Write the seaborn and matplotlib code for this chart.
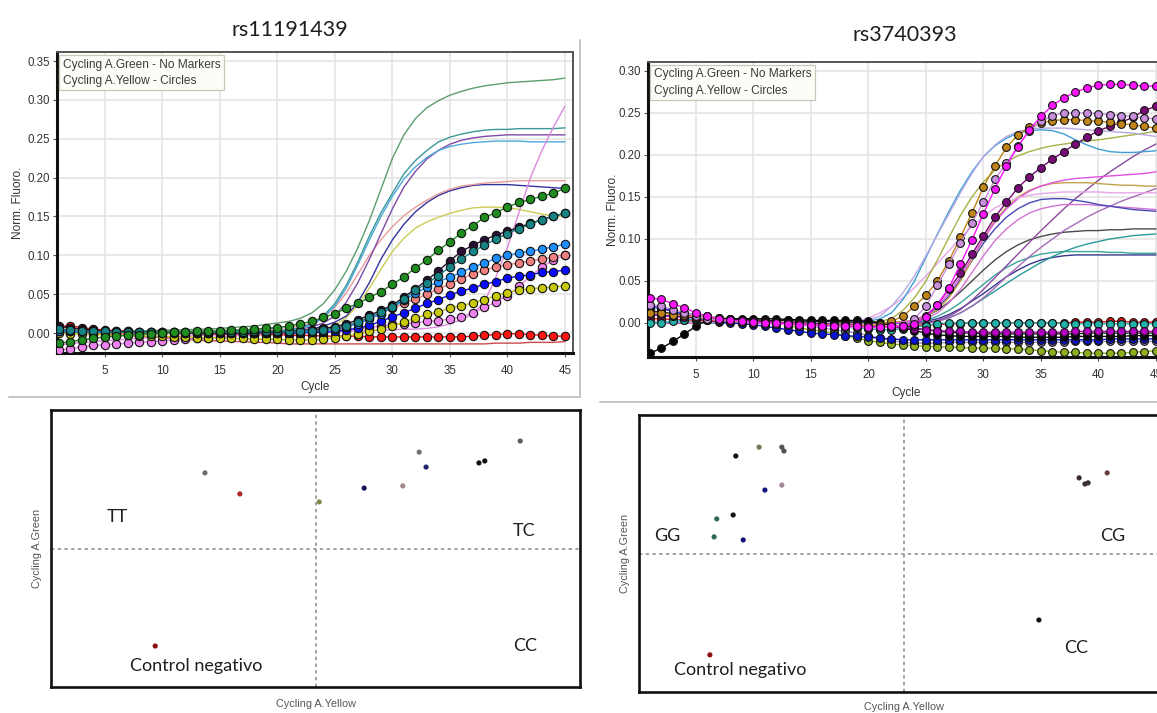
import matplotlib
matplotlib.use("Agg")
import matplotlib.pyplot as plt
from matplotlib.lines import Line2D
from matplotlib.ticker import FormatStrFormatter
import numpy as np
import pandas as pd
import seaborn as sns

# ---------------------------------------------------------------------------
# Amplification data: Norm. Fluoro. in thousandths, one value per cycle 1..45
# ---------------------------------------------------------------------------
cycles = list(range(1, 46))

# rs11191439 - Cycling A.Green (lines, no markers)
lg_seagreen = [3,3,3,3,3,3,3,3,3,4, 4,4,5,5,6,7,8,9,11,13, 15,19,26,38,56,
               80,110,145,185,225, 255,276,290,299,306, 311,315,318,320,322, 323,324,325,326,328]
lg_teal = [2,2,2,2,2,2,2,2,2,2, 2,2,2,2,2,2,3,3,3,3, 4,7,12,22,38,
           62,92,125,155,180, 205,222,235,246,252, 256,259,261,262,262, 263,263,263,263,264]
lg_purple = [2,2,2,2,2,1,1,1,1,1, 1,1,1,1,1,1,1,2,2,2, 3,5,8,13,22,
             40,65,95,128,160, 188,208,224,235,243, 248,251,253,254,255, 255,255,255,255,255]
lg_lightblue = [1,1,1,1,1,1,1,1,1,1, 1,1,1,1,1,1,2,2,2,3, 4,6,10,20,35,
                58,88,120,150,176, 198,214,226,235,240, 243,245,246,247,247, 247,246,246,246,246]
lg_pink = [4,4,4,4,3,3,3,3,3,3, 3,3,3,3,3,3,4,4,5,6, 7,9,13,20,33,
           52,76,100,120,137, 151,162,171,179,185, 189,191,193,194,195, 196,196,196,196,196]
lg_navy = [1,1,1,1,1,1,1,1,0,0, 0,0,0,0,0,0,0,1,1,1, 2,3,5,9,14,
           22,40,65,95,120, 140,156,168,177,183, 187,190,191,191,191, 190,189,188,187,186]
lg_khaki = [0,0,0,0,0,0,0,0,0,0, -1,-1,-1,-1,-1,-1,-1,-1,0,0, 1,2,3,5,10,
            20,36,58,82,105, 122,135,143,149,154, 158,161,162,162,161, 159,156,153,151,150]
lg_violet = [-15,-14,-12,-11,-10,-9,-8,-7,-6,-5, -4,-4,-3,-3,-2,-2,-2,-1,-1,-1, 0,0,1,1,2,
             2,3,3,4,4, 5,5,6,8,12, 17,25,40,72,110, 155,200,235,265,292]
lg_red = [3,2,1,0,-1,-2,-3,-4,-5,-6, -7,-8,-9,-10,-10,-11,-11,-12,-12,-13, -14,-14,-14,-14,-14,
          -14,-14,-14,-14,-14, -14,-14,-14,-14,-14, -14,-14,-14,-13,-13, -13,-12,-12,-12,-11]

# rs11191439 - Cycling A.Yellow (circles)
ly_green = [-13,-11,-9,-7,-5,-4,-3,-2,-1,0, 1,1,2,2,3,4,4,5,6,7, 9,12,15,20,25,
            32,38,46,53,63, 72,84,94,107,117, 129,138,149,155,162, 168,172,176,180,186]
ly_teal = [5,4,3,2,2,1,1,1,1,1, 1,1,1,1,1,1,1,2,2,2, 2,3,3,4,6,
           9,14,20,27,34, 44,55,64,74,85, 95,105,113,121,128, 134,140,146,150,155]
ly_dark = [8,7,5,4,3,2,2,1,1,1, 1,0,0,0,0,0,0,0,1,1, 2,3,4,6,8,
           12,17,23,29,36, 46,57,68,80,93, 105,113,120,126,131, 136,141,146,150,154]
ly_lightblue = [2,2,2,1,1,1,1,1,1,1, 1,1,1,1,1,1,1,1,1,1, 1,1,2,3,5,
                8,12,18,25,33, 42,51,59,66,72, 78,85,90,96,100, 103,105,108,111,114]
ly_salmon = [3,2,2,1,1,0,0,0,0,0, 0,0,0,0,0,0,0,0,0,0, 1,2,3,5,7,
             10,14,19,25,32, 38,44,50,57,63, 70,76,81,85,88, 90,93,95,98,101]
ly_blue = [2,2,2,1,1,1,1,0,0,0, 0,0,0,0,0,0,0,0,0,0, 0,0,1,1,2,
           4,6,10,15,21, 26,32,38,43,49, 54,58,63,66,71, 73,75,78,79,81]
ly_yellow = [0,-1,-1,-2,-2,-3,-3,-4,-4,-4, -5,-5,-6,-6,-6,-7,-7,-8,-8,-8, -9,-9,-9,-8,-6,
             -4,-1,2,5,9, 14,19,24,27,32, 35,39,43,48,52, 55,57,58,59,61]
ly_orchid = [-22,-20,-18,-16,-15,-14,-13,-12,-11,-10, -9,-8,-7,-6,-5,-4,-3,-2,-1,0, 1,2,3,4,5,
             5,6,7,9,11, 12,13,15,16,18, 21,26,33,40,48, 60,73,85,94,100]
ly_red = [9,9,7,5,4,3,2,1,1,0, 0,0,0,-1,-1,-1,-1,-2,-2,-2, -3,-3,-3,-4,-4,
          -4,-4,-5,-5,-5, -5,-5,-5,-5,-5, -5,-4,-3,-2,-1, -1,-2,-3,-4,-4]

# rs3740393 - Cycling A.Green (lines, no markers)
rg_lavender = [2,2,2,1,1,1,1,0,0,0, 0,0,0,0,0,0,1,1,2,4, 8,20,36,56,80,
               105,130,155,178,198, 212,222,228,231,232, 232,232,231,230,229, 228,227,226,224,222]
rg_pink = [1,1,1,1,1,0,0,0,0,0, 0,0,0,0,0,0,0,1,2,6, 12,20,30,42,56,
           71,86,101,115,127, 137,144,149,152,154, 155,156,156,156,156, 155,155,155,155,155]
rg_steelblue = [1,1,1,1,1,0,0,0,0,0, 0,0,0,0,0,0,0,1,1,2, 5,12,28,50,78,
                106,133,158,180,198, 211,220,226,229,230, 229,225,218,212,207, 204,203,203,204,205]
rg_olive = [1,1,1,1,0,0,0,0,0,0, 0,0,0,0,0,0,0,0,1,1, 2,5,15,30,50,
            75,102,128,150,168, 182,192,199,204,208, 211,213,215,217,218, 220,222,224,226,228]
rg_magenta = [0,0,0,0,0,0,0,0,0,0, 0,0,0,0,0,0,0,0,0,0, 0,0,1,3,10,
              20,35,55,78,100, 120,136,148,157,163, 167,170,172,173,174, 175,176,177,178,180]
rg_khaki = [0,0,0,0,0,0,0,0,0,0, 0,0,0,0,0,0,0,0,0,0, 0,1,2,3,8,
            16,30,50,75,100, 122,138,150,158,163, 166,167,167,167,166, 165,164,164,163,163]
rg_navy = [0,0,0,0,0,0,0,0,0,0, 0,0,0,0,0,0,0,0,0,0, 0,0,1,2,8,
           18,32,52,74,95, 112,126,136,143,147, 148,148,146,144,141, 139,137,135,134,133]
rg_orchid = [0,0,0,0,0,0,0,0,0,0, 0,0,0,0,0,0,0,0,0,0, 0,0,1,2,5,
             12,24,40,60,80, 98,112,123,131,136, 139,141,141,141,140, 139,138,137,136,135]
rg_purple = [0,0,0,0,0,0,0,0,0,0, 0,0,0,0,0,0,0,0,0,0, 0,0,0,0,0,
             3,8,16,27,40, 54,68,82,96,110, 123,136,148,159,170, 180,189,198,206,213]
rg_purple2 = [0,0,0,0,0,0,0,0,0,0, 0,0,0,0,0,0,0,0,0,0, 0,0,0,0,0,
              2,6,12,20,30, 42,55,67,79,90, 100,110,118,126,133, 139,145,150,155,160]
rg_gray = [0,0,0,0,0,0,0,0,0,0, 0,0,0,0,0,0,0,0,0,0, 0,0,1,3,8,
           15,25,37,50,63, 75,85,93,99,103, 106,108,109,110,110, 111,111,112,112,112]
rg_teal = [0,0,0,0,0,0,0,0,0,0, 0,0,0,0,0,0,0,0,0,0, 0,0,0,0,0,
           2,6,12,20,29, 38,47,56,64,72, 79,85,90,94,97, 100,102,104,105,106]
rg_teal2 = [0,0,0,0,0,0,0,0,0,0, 0,0,0,0,0,0,0,0,0,0, 0,0,0,1,3,
            8,15,24,35,46, 57,66,73,78,82, 84,85,85,85,85, 84,84,83,83,83]
rg_darknavy = [0,0,0,0,0,0,0,0,0,0, 0,0,0,0,0,0,0,0,0,0, 0,0,0,0,2,
               5,10,17,26,35, 45,55,63,70,75, 78,80,81,81,81, 81,81,81,81,81]

# rs3740393 - Cycling A.Yellow (circles)
ry_lavgray = [18,16,14,12,10,8,6,5,4,3, 2,1,0,-2,-4,-6,-8,-10,-12,-15, -18,-21,-23,-24,-24,
              -24,-23,-23,-23,-23, -23,-23,-23,-23,-23, -23,-23,-22,-22,-22, -22,-22,-22,-22,-22]
ry_olive = [12,12,11,10,9,8,6,5,4,3, 2,0,-3,-6,-8,-10,-12,-15,-18,-21, -23,-25,-26,-27,-28,
            -28,-29,-29,-30,-30, -30,-31,-31,-32,-33, -34,-35,-35,-36,-36, -36,-36,-35,-34,-33]
ry_blue = [20,18,14,10,6,3,1,0,-1,-2, -4,-6,-8,-10,-12,-13,-14,-15,-16,-17, -18,-19,-20,-20,-20,
           -20,-20,-20,-20,-20, -20,-20,-20,-20,-20, -20,-20,-20,-20,-20, -19,-19,-19,-19,-19]
ry_black = [-36,-30,-22,-13,-4,4,5,5,5,5, 5,5,4,4,3,3,3,3,3,2, 0,-3,-6,-9,-12,
            -14,-15,-16,-16,-16, -16,-16,-17,-17,-17, -17,-17,-16,-16,-16, -16,-16,-15,-15,-15]
ry_black2 = [14,13,11,9,7,6,5,4,4,4, 3,3,3,2,2,2,2,1,1,1, 0,-2,-4,-6,-8,
             -10,-11,-12,-12,-13, -13,-13,-13,-13,-13, -13,-13,-13,-12,-12, -12,-12,-12,-12,-12]
ry_purple = [10,9,8,7,6,5,4,3,3,2, 2,1,0,0,-1,-1,-2,-2,-3,-3, -4,-5,-6,-7,-8,
             -9,-10,-10,-11,-11, -11,-11,-11,-11,-11, -11,-11,-10,-10,-10, -10,-10,-10,-10,-10]
ry_red = [5,5,4,4,3,3,2,2,1,0, 0,-1,-1,-2,-2,-3,-3,-3,-4,-4, -4,-4,-3,-3,-2,
          -2,-1,-1,0,0, 0,0,0,0,0, 0,0,1,1,1, 2,2,1,1,1]
ry_teal = [0,0,2,4,5,5,4,3,2,2, 1,0,0,-1,-2,-3,-4,-5,-6,-7, -8,-8,-7,-5,-3,
           -1,0,0,0,0, 0,0,0,0,0, 0,-1,-1,-1,-1, -1,-1,-1,-1,-1]
ry_darkpurple = [10,9,8,7,6,5,4,3,2,2, 1,1,0,0,-1,-1,-2,-2,-3,-3, -4,-5,-5,-3,8,
                 22,40,59,82,104, 126,144,161,174,185, 195,204,213,221,229, 234,239,245,253,258]
ry_brown = [12,12,10,9,7,5,4,3,2,1, 0,0,-1,-1,-2,-2,-2,-3,-3,-3, -2,2,8,20,33,
            50,74,102,131,162, 187,209,224,233,238, 241,242,242,241,240, 239,237,236,234,232]
ry_lavender = [22,20,16,12,8,5,3,2,1,0, -1,-1,-2,-3,-3,-4,-4,-5,-5,-6, -6,-5,-3,5,20,
               45,70,95,119,144, 171,190,211,228,240, 247,250,250,250,249, 248,247,246,244,243]
ry_magenta = [30,28,23,18,12,8,5,3,2,1, 0,0,-1,-2,-2,-3,-3,-4,-4,-5, -5,-4,-3,-1,7,
              22,42,70,99,130, 160,187,210,230,246, 259,268,275,280,283, 284,284,283,282,282]

# ---------------------------------------------------------------------------
# Allelic discrimination end points (Cycling A.Yellow vs Cycling A.Green, 0-100)
# ---------------------------------------------------------------------------
sc1_yellow = [29.1, 35.7, 50.7, 59.2, 66.5, 69.6, 70.9, 80.9, 82.0, 88.7, 19.7]
sc1_green = [77.3, 69.7, 66.8, 71.8, 72.6, 84.8, 79.4, 80.9, 81.6, 88.8, 14.8]
sc1_colors = ["#6e6e6e", "#b02828", "#7f8a4a", "#15155e", "#a08888", "#707070",
              "#1f2470", "#111111", "#111111", "#5e5e5e", "#8c1010"]

sc2_yellow = [18.3, 22.7, 27.0, 27.4, 23.8, 27.0, 17.8, 14.7, 14.2, 19.7,
              83.2, 84.3, 84.9, 88.5, 75.6, 13.4]
sc2_green = [85.2, 88.4, 88.4, 87.0, 72.9, 74.7, 63.9, 62.5, 56.0, 54.9,
             77.3, 75.1, 75.5, 79.1, 26.0, 13.4]
sc2_colors = ["#111111", "#6f7a55", "#555555", "#505050", "#141480", "#a08898",
              "#151515", "#2f6a55", "#2f6a55", "#16167a",
              "#3a2c2c", "#3a3030", "#3a3030", "#6a3c3c", "#141414", "#8c1010"]

threshold_yellow = 50
threshold_green = 50

left_quadrants = [("TT", 12.5, 61.4), ("TC", 89.4, 56.3), ("CC", 89.6, 14.8),
                  ("Control negativo", 27.4, 7.6)]
right_quadrants = [("GG", 5.3, 56.3), ("CG", 89.5, 56.3), ("CC", 82.6, 15.9),
                   ("Control negativo", 19.1, 7.9)]

# ---------------------------------------------------------------------------
# Series styling
# ---------------------------------------------------------------------------
left_lines = [
    (lg_red, "#cc4a4a"), (lg_khaki, "#cccc55"), (lg_navy, "#33339e"),
    (lg_pink, "#e89a9a"), (lg_purple, "#7d4aa6"), (lg_lightblue, "#4fa8da"),
    (lg_teal, "#3a9898"), (lg_seagreen, "#5c9e6c"), (lg_violet, "#dd88dd"),
]
left_marks = [
    (ly_red, "#ff1414"), (ly_orchid, "#ee82ee"), (ly_yellow, "#c8c80c"),
    (ly_blue, "#0a0aff"), (ly_salmon, "#f08080"), (ly_lightblue, "#1e8fff"),
    (ly_dark, "#2a0f33"), (ly_teal, "#168484"), (ly_green, "#1f8c1f"),
]
right_lines = [
    (rg_darknavy, "#35358f"), (rg_teal2, "#3aa39a"), (rg_teal, "#2a9a9a"),
    (rg_gray, "#4a4a4a"), (rg_purple2, "#a56cb8"), (rg_purple, "#8a4aa2"),
    (rg_orchid, "#d272d2"), (rg_navy, "#4848b4"), (rg_khaki, "#c4a24c"),
    (rg_magenta, "#e052e0"), (rg_pink, "#e6a6ea"), (rg_olive, "#a9b046"),
    (rg_steelblue, "#3f9fd4"), (rg_lavender, "#b8a8e6"),
]
right_marks = [
    (ry_lavgray, "#9c8cc8"), (ry_olive, "#8fb01e"), (ry_blue, "#0a14d0"),
    (ry_black2, "#1e1e1e"), (ry_black, "#050505"), (ry_red, "#e01010"),
    (ry_teal, "#22b2aa"), (ry_purple, "#b400c0"), (ry_darkpurple, "#7a0a7a"),
    (ry_brown, "#c08418"), (ry_lavender, "#c890dc"), (ry_magenta, "#ff14ff"),
]

for series, _ in left_lines + left_marks + right_lines + right_marks:
    assert len(series) == len(cycles)

# ---------------------------------------------------------------------------
# Figure
# ---------------------------------------------------------------------------
sns.set_theme(style="white")
plt.rcParams["font.family"] = ["Liberation Sans", "DejaVu Sans"]

W, H = 1157, 713
fig = plt.figure(figsize=(W / 100, H / 100), dpi=100)


def px_axes(x0, y0, x1, y1):
    """Axes from a pixel box (left, top, right, bottom)."""
    return fig.add_axes([x0 / W, 1 - y1 / H, (x1 - x0) / W, (y1 - y0) / H])


def draw_amplification(ax, lines, marks, msize):
    for vals, col in lines:
        sns.lineplot(x=cycles, y=np.array(vals) / 1000.0, ax=ax, color=col,
                     lw=1.0, errorbar=None, zorder=2)
    for vals, col in marks:
        sns.lineplot(x=cycles, y=np.array(vals) / 1000.0, ax=ax, color=col,
                     lw=1.0, marker="o", markersize=msize, markeredgecolor="#111111",
                     markeredgewidth=0.8, errorbar=None, zorder=3)


def style_amplification(ax, ylim, ytop, label_y, ylabel_x):
    ax.set_xlim(0.83, 45.7)
    ax.set_ylim(*ylim)
    ax.set_xticks(range(5, 46, 5))
    ax.set_yticks(np.arange(0, ytop + 0.001, 0.05))
    ax.yaxis.set_major_formatter(FormatStrFormatter("%.2f"))
    ax.grid(True, color="#e2e2e2", lw=1.1)
    ax.set_axisbelow(True)
    ax.tick_params(axis="both", labelsize=8.3, labelcolor="#333333", color="#555555",
                   length=3, width=0.8, pad=2, bottom=True, left=True, direction="out")
    ax.tick_params(axis="x", pad=6)
    for side in ("left", "bottom"):
        ax.spines[side].set_color("#111111")
        ax.spines[side].set_linewidth(2.2)
    for side in ("top", "right"):
        ax.spines[side].set_color("#555555")
        ax.spines[side].set_linewidth(1.4)
    ax.set_xlabel("Cycle", fontsize=8.5, color="#333333")
    ax.set_ylabel("Norm. Fluoro.", fontsize=8.5, color="#333333")
    ax.xaxis.set_label_coords(0.5, label_y)
    ax.yaxis.set_label_coords(ylabel_x, 0.5)
    ax.text(0.011, 0.978, "Cycling A.Green - No Markers\nCycling A.Yellow - Circles",
            transform=ax.transAxes, ha="left", va="top", fontsize=8.6, color="#3a3a3a",
            linespacing=1.45, zorder=6,
            bbox=dict(boxstyle="square,pad=0.28", fc="#fdfdf8", ec="#c8c8b8", lw=0.9))


def draw_discrimination(ax, xs, ys, cols, quadrants, xlab_y):
    sns.scatterplot(x=xs, y=ys, hue=list(range(len(xs))), palette=cols, ax=ax,
                    s=14, edgecolor="none", legend=False, zorder=3)
    ax.axvline(threshold_yellow, color="#8a8a8a", lw=1.1, ls=(0, (2.2, 2.2)), zorder=1)
    ax.axhline(threshold_green, color="#8a8a8a", lw=1.1, ls=(0, (2.2, 2.2)), zorder=1)
    ax.set_xlim(0, 100)
    ax.set_ylim(0, 100)
    ax.set_xticks([])
    ax.set_yticks([])
    for side in ax.spines:
        ax.spines[side].set_color("#111111")
        ax.spines[side].set_linewidth(1.9)
    ax.set_xlabel("Cycling A.Yellow", fontsize=7.8, color="#555555")
    ax.set_ylabel("Cycling A.Green", fontsize=7.8, color="#555555")
    ax.xaxis.set_label_coords(0.5, xlab_y)
    ax.yaxis.set_label_coords(-0.017, 0.5)
    for txt, tx, ty in quadrants:
        ax.text(tx, ty, txt, ha="center", va="center", fontsize=13, color="#1e1e1e",
                family=["Lato", "DejaVu Sans"])


# panel frames of the composed figure
for (x0, y0, x1, y1) in [(9, 397, 580, 397), (580, 40, 580, 397), (600, 402, 1157, 402)]:
    fig.add_artist(Line2D([x0 / W, x1 / W], [1 - y0 / H, 1 - y1 / H],
                          color="#c4c4c4", lw=1.4))

# top-left: rs11191439 amplification
ax1 = px_axes(57, 52, 573, 353)
draw_amplification(ax1, left_lines, left_marks, 6.0)
style_amplification(ax1, (-0.0257, 0.3616), 0.35, -0.093, -0.064)

# top-right: rs3740393 amplification
ax2 = px_axes(648, 62, 1164, 357)
draw_amplification(ax2, right_lines, right_marks, 5.6)
style_amplification(ax2, (-0.0405, 0.3107), 0.30, -0.102, -0.056)

fig.text(290 / W, 1 - 30 / H, "rs11191439", ha="center", va="center", fontsize=15.5,
         color="#1e1e1e", family=["Lato", "DejaVu Sans"])
fig.text(905 / W, 1 - 35 / H, "rs3740393", ha="center", va="center", fontsize=15.5,
         color="#1e1e1e", family=["Lato", "DejaVu Sans"])

# bottom: allelic discrimination plots
ax3 = px_axes(51, 410, 580, 687)
draw_discrimination(ax3, sc1_yellow, sc1_green, sc1_colors, left_quadrants, -0.044)

ax4 = px_axes(639, 415, 1168, 692)
draw_discrimination(ax4, sc2_yellow, sc2_green, sc2_colors, right_quadrants, -0.036)

fig.savefig("out.png", dpi=100, facecolor="white")
